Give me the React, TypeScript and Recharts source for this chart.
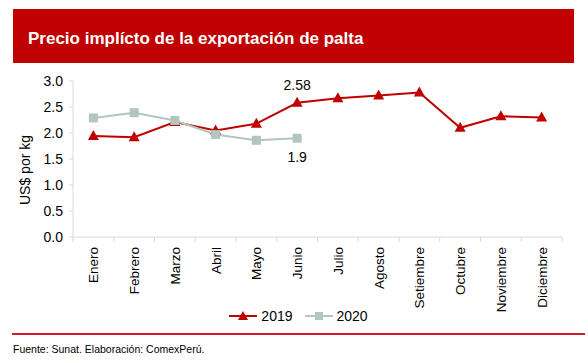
import { LineChart, Line, XAxis, YAxis, Legend, LabelList } from "recharts";

const months = ["Enero", "Febrero", "Marzo", "Abril", "Mayo", "Junio", "Julio", "Agosto", "Setiembre", "Octubre", "Noviembre", "Diciembre"];
const values2019 = [1.94, 1.92, 2.21, 2.05, 2.18, 2.58, 2.67, 2.72, 2.78, 2.1, 2.32, 2.3];
const values2020 = [2.29, 2.39, 2.24, 1.97, 1.86, 1.9];
const yTicks = [0, 0.5, 1, 1.5, 2, 2.5, 3];

const RED = "#C00000";
const GREY = "#B3C5C0";
const AXIS = "#D9D9D9";
const FONT = "'Liberation Sans', Arial, sans-serif";

const data = months.map((m, i) => ({
  month: m,
  y2019: values2019[i],
  y2020: i < values2020.length ? values2020[i] : null,
}));

const PLOT_LEFT = 73;
const PLOT_RIGHT = 562;
const band = (PLOT_RIGHT - PLOT_LEFT) / months.length;

function MonthTick(props: any) {
  const { x, y, payload, index } = props;
  return (
    <g>
      <line x1={x - band / 2} y1={y} x2={x - band / 2} y2={y + 5} stroke={AXIS} />
      {index === months.length - 1 && (
        <line x1={x + band / 2} y1={y} x2={x + band / 2} y2={y + 5} stroke={AXIS} />
      )}
      <text
        x={x + 5}
        y={y + 10}
        transform={`rotate(-90, ${x + 5}, ${y + 10})`}
        textAnchor="end"
        fontSize={13.5}
        fill="#000"
        fontFamily={FONT}
      >
        {payload.value}
      </text>
    </g>
  );
}

function Triangle(props: any) {
  const { cx, cy } = props;
  if (cy == null) return null;
  return <path d={`M${cx},${cy - 6} L${cx + 5.5},${cy + 4} L${cx - 5.5},${cy + 4} Z`} fill={RED} />;
}

function Square(props: any) {
  const { cx, cy } = props;
  if (cy == null) return null;
  return <rect x={cx - 4.5} y={cy - 4.5} width={9} height={9} fill={GREY} />;
}

function LegendBox() {
  return (
    <div style={{ height: 20, display: "flex", justifyContent: "center", alignItems: "center", fontFamily: FONT, fontSize: 14, color: "#000", paddingLeft: 22 }}>
      <svg width={28} height={12} style={{ marginRight: 4 }}>
        <line x1={0} y1={6} x2={28} y2={6} stroke={RED} strokeWidth={2} />
        <path d="M14,1 L19,10 L9,10 Z" fill={RED} />
      </svg>
      <span style={{ marginRight: 12 }}>2019</span>
      <svg width={28} height={12} style={{ marginRight: 4 }}>
        <line x1={0} y1={6} x2={28} y2={6} stroke={GREY} strokeWidth={2} />
        <rect x={10} y={2} width={8} height={8} fill={GREY} />
      </svg>
      <span>2020</span>
    </div>
  );
}

export default function App() {
  return (
    <div style={{ position: "absolute", left: 0, top: 0, width: 588, height: 363, background: "#fff", fontFamily: FONT }}>
      <div style={{ position: "absolute", left: 13, top: 9, width: 561, height: 54, background: RED, color: "#fff", fontWeight: "bold", fontSize: 17, lineHeight: "60px", paddingLeft: 15, boxSizing: "border-box" }}>
        Precio implícto de la exportación de palta
      </div>
      <div style={{ position: "absolute", left: 0, top: 0 }}>
        <LineChart width={588} height={326} data={data} margin={{ top: 81, right: 588 - PLOT_RIGHT, left: 13, bottom: 0 }}>
          <XAxis
            dataKey="month"
            tick={<MonthTick />}
            tickLine={false}
            tickSize={0}
            tickMargin={0}
            interval={0}
            height={69}
            padding={{ left: band / 2, right: band / 2 }}
            stroke={AXIS}
          />
          <YAxis
            domain={[0, 3]}
            ticks={yTicks}
            tickFormatter={(v: number) => v.toFixed(1)}
            width={60}
            tickSize={4}
            tickMargin={6}
            stroke={AXIS}
            tick={{ fill: "#000", fontSize: 14, fontFamily: FONT }}
            label={{ value: "US$ por kg", angle: -90, position: "center", dx: -18, dy: 11, fill: "#000", fontSize: 14, fontFamily: FONT }}
          />
          <Legend verticalAlign="bottom" content={<LegendBox />} />
          <Line dataKey="y2019" stroke={RED} strokeWidth={2} dot={<Triangle />} activeDot={false} isAnimationActive={false}>
            <LabelList
              dataKey="y2019"
              content={(p: any) =>
                p.index === 5 ? (
                  <text x={p.x} y={p.y - 13} textAnchor="middle" fontSize={14} fill="#000" fontFamily={FONT}>{p.value}</text>
                ) : null
              }
            />
          </Line>
          <Line dataKey="y2020" stroke={GREY} strokeWidth={2} dot={<Square />} activeDot={false} isAnimationActive={false} connectNulls={false}>
            <LabelList
              dataKey="y2020"
              content={(p: any) =>
                p.index === 5 ? (
                  <text x={p.x} y={p.y + 24} textAnchor="middle" fontSize={14} fill="#000" fontFamily={FONT}>{p.value}</text>
                ) : null
              }
            />
          </Line>
        </LineChart>
      </div>
      <div style={{ position: "absolute", left: 12, top: 333, width: 573, height: 2, background: "#D7182A" }} />
      <div style={{ position: "absolute", left: 13, top: 343, fontSize: 10.5, color: "#000", whiteSpace: "nowrap" }}>
        Fuente: Sunat. Elaboración: ComexPerú.
      </div>
    </div>
  );
}
